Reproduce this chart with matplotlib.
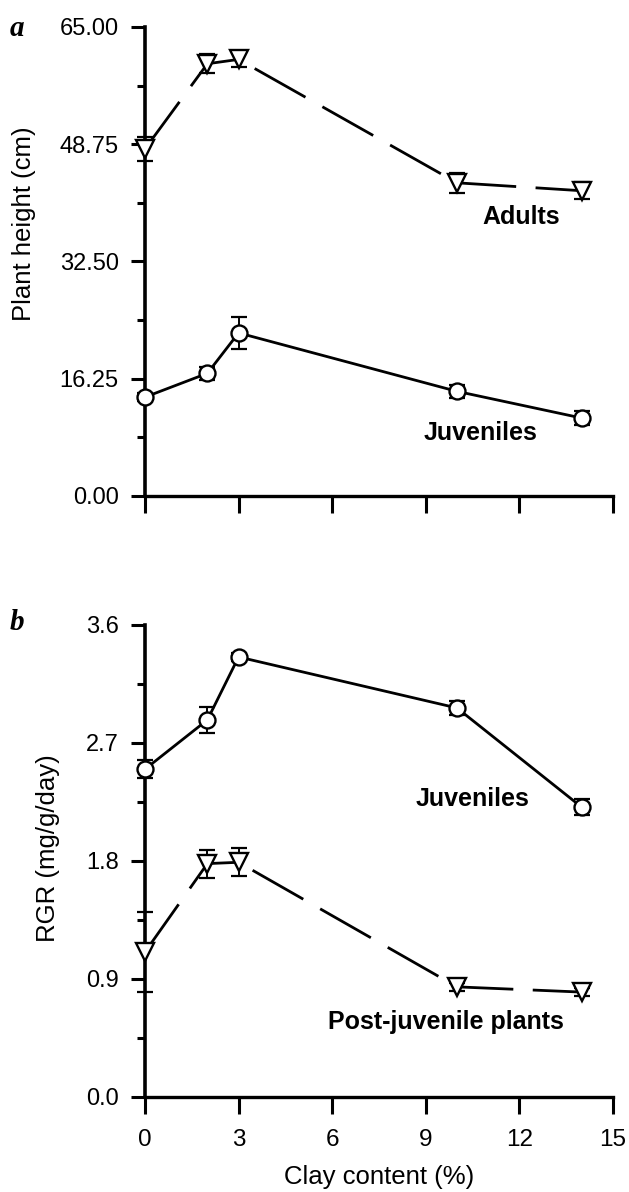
"""Plant height and RGR vs clay content, two stacked panels (a, b)."""

import matplotlib

matplotlib.use("Agg")
import matplotlib.pyplot as plt
from matplotlib.ticker import AutoMinorLocator, FormatStrFormatter

plt.rcParams["font.family"] = ["Liberation Sans", "DejaVu Sans"]

CLAY = [0, 2, 3, 10, 14]

# panel a: plant height (cm)
ADULT_H = [48.1, 59.9, 60.5, 43.4, 42.3]
ADULT_H_ERR = [1.7, 1.3, 1.0, 1.4, 1.2]
JUV_H = [13.7, 17.0, 22.6, 14.5, 10.8]
JUV_H_ERR = [0.6, 0.9, 2.2, 0.9, 1.0]

# panel b: RGR (mg/g/day)
JUV_RGR = [2.50, 2.876, 3.356, 2.967, 2.21]
JUV_RGR_ERR = [0.07, 0.10, 0.03, 0.05, 0.06]
POST_RGR = [1.106, 1.78, 1.79, 0.84, 0.80]
POST_RGR_ERR = [0.305, 0.107, 0.107, 0.03, 0.03]

A_TICKS = [0.0, 16.25, 32.5, 48.75, 65.0]
B_TICKS = [0.0, 0.9, 1.8, 2.7, 3.6]
X_TICKS = [0, 3, 6, 9, 12, 15]

INK = "#000000"
DASH = (21, 7)


def series(ax, y, err, marker, ms, dashed):
    line_kw = dict(color=INK, lw=2.0, zorder=2, clip_on=False)
    if dashed:
        ax.plot(CLAY, y, dashes=DASH, **line_kw)
    else:
        ax.plot(CLAY, y, **line_kw)
    ax.errorbar(
        CLAY, y, yerr=err, fmt="none", ecolor=INK, elinewidth=1.4,
        capsize=5.5, capthick=1.6, zorder=3, clip_on=False,
    )
    ax.plot(
        CLAY, y, ls="none", marker=marker, ms=ms, mfc="white", mec=INK,
        mew=1.7, zorder=4, clip_on=False,
    )


def style_axes(ax, yticks, fmt, show_xlabels):
    ax.set_xlim(0, 15)
    ax.set_ylim(yticks[0], yticks[-1])
    ax.set_xticks(X_TICKS)
    ax.set_yticks(yticks)
    ax.yaxis.set_minor_locator(AutoMinorLocator(2))
    ax.yaxis.set_major_formatter(FormatStrFormatter(fmt))
    ax.spines[["top", "right"]].set_visible(False)
    ax.spines["left"].set_linewidth(2.6)
    ax.spines["bottom"].set_linewidth(2.4)
    ax.tick_params(axis="y", which="major", direction="out", length=10,
                   width=2.2, pad=9, labelsize=17)
    ax.tick_params(axis="y", which="minor", direction="out", length=6,
                   width=2.2)
    ax.tick_params(axis="x", which="major", direction="out", length=12,
                   width=2.2, pad=11, labelsize=17.5,
                   labelbottom=show_xlabels)


fig = plt.figure(figsize=(6.29, 11.92), dpi=100)
ax_a = fig.add_axes([0.2305, 0.5839, 0.744, 0.3935])
ax_b = fig.add_axes([0.2305, 0.0797, 0.744, 0.396])

# panel a
series(ax_a, ADULT_H, ADULT_H_ERR, "v", 12.5, True)
series(ax_a, JUV_H, JUV_H_ERR, "o", 11.5, False)
style_axes(ax_a, A_TICKS, "%.2f", False)
ax_a.set_ylabel("Plant height (cm)", fontsize=18.5)
ax_a.yaxis.set_label_coords(-0.233, 0.58)
ax_a.text(12.05, 38.7, "Adults", ha="center", va="center",
          fontsize=18, fontweight="bold")
ax_a.text(10.77, 8.7, "Juveniles", ha="center", va="center",
          fontsize=18, fontweight="bold")

# panel b
series(ax_b, JUV_RGR, JUV_RGR_ERR, "o", 11.5, False)
series(ax_b, POST_RGR, POST_RGR_ERR, "v", 12.5, True)
style_axes(ax_b, B_TICKS, "%.1f", True)
ax_b.set_ylabel("RGR (mg/g/day)", fontsize=18.5)
ax_b.yaxis.set_label_coords(-0.182, 0.527)
ax_b.set_xlabel("Clay content (%)", fontsize=18.5, labelpad=10)
ax_b.text(10.5, 2.27, "Juveniles", ha="center", va="center",
          fontsize=18, fontweight="bold")
ax_b.text(9.65, 0.57, "Post-juvenile plants", ha="center", va="center",
          fontsize=18, fontweight="bold")

letter_kw = dict(fontsize=21, fontweight="bold", fontstyle="italic",
                 family=["Liberation Serif", "DejaVu Serif"],
                 ha="center", va="center")
fig.text(17 / 629, 1 - 28 / 1192, "a", **letter_kw)
fig.text(17 / 629, 1 - 622 / 1192, "b", **letter_kw)

fig.savefig("out.png", dpi=100)
